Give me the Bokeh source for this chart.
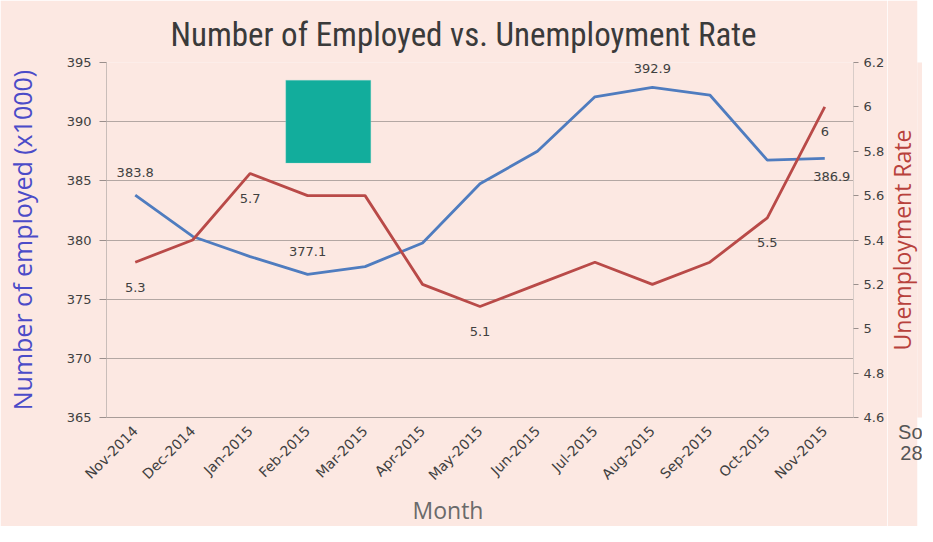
from math import pi
from bokeh.plotting import figure
from bokeh.layouts import row
from bokeh.models import (FactorRange, Range1d, LinearAxis, FixedTicker, NumeralTickFormatter,
                          BoxAnnotation, Title, ColumnDataSource)
from bokeh.core.properties import value
from bokeh.embed import file_html
from bokeh.resources import INLINE

# ---- data ----
months = ["Nov-2014", "Dec-2014", "Jan-2015", "Feb-2015", "Mar-2015", "Apr-2015", "May-2015",
          "Jun-2015", "Jul-2015", "Aug-2015", "Sep-2015", "Oct-2015", "Nov-2015"]
employed = [383.8, 380.3, 378.6, 377.1, 377.75, 379.75, 384.75, 387.5, 392.1, 392.9, 392.25, 386.75, 386.9]
rate = [5.3, 5.4, 5.7, 5.6, 5.6, 5.2, 5.1, 5.2, 5.3, 5.2, 5.3, 5.5, 6.0]
left_ticks = [365, 370, 375, 380, 385, 390, 395]
right_ticks = [4.6, 4.8, 5.0, 5.2, 5.4, 5.6, 5.8, 6.0, 6.2]
emp_label_months = ["Nov-2014", "Feb-2015"]
emp_label_months_top = ["Aug-2015"]
emp_label_months_below = ["Nov-2015"]
rate_label_months = ["Nov-2014", "Jan-2015", "May-2015", "Oct-2015", "Nov-2015"]

BG = "#fce8e2"
GRID = "#b3a7a3"
TXT = "#404040"
BLUE = "#4f7cbf"
RED = "#b94a48"
TICKFONT = "DejaVu Sans"
TITLEFONT = "'Roboto Condensed', 'DejaVu Sans Condensed', 'Liberation Sans Narrow', 'Arial Narrow', Roboto"

p = figure(x_range=FactorRange(factors=months), y_range=Range1d(365, 395),
           width=887, height=526, output_backend="svg", toolbar_location=None,
           background_fill_color=BG, border_fill_color=BG, outline_line_color=None,
           min_border_left=106, min_border_right=34, min_border_top=57, min_border_bottom=109)
p.extra_y_ranges = {"rate": Range1d(4.6, 6.2)}

# title
p.title.text = "Number of Employed vs. Unemployment Rate"
p.title.text_font = TITLEFONT
p.title.text_font_size = "33px"
p.title.text_font_style = "normal"
p.title.text_color = "#3a3a3a"
p.title.align = "left"
p.title.offset = 64
p.title.standoff = 17

# grid
p.xgrid.grid_line_color = None
p.ygrid.ticker = FixedTicker(ticks=left_ticks)
p.ygrid.grid_line_color = GRID
p.ygrid.grid_line_width = 1

# left axis
ya = p.yaxis[0]
ya.ticker = FixedTicker(ticks=left_ticks)
ya.axis_line_color = "#c9bdb9"
ya.major_tick_line_color = "#9a8f8c"
ya.major_tick_out = 7
ya.major_tick_in = 0
ya.minor_tick_line_color = None
ya.major_label_standoff = 8
ya.major_label_text_font = TICKFONT
ya.major_label_text_font_size = "13px"
ya.major_label_text_color = TXT
ya.axis_label = "Number of employed (x1000)"
ya.axis_label_text_font = "Open Sans"
ya.axis_label_text_font_size = "25px"
ya.axis_label_text_font_style = "normal"
ya.axis_label_text_color = "#4b4bc8"
ya.axis_label_standoff = 25

# right axis (ticks on the main figure)
ra = LinearAxis(y_range_name="rate", ticker=FixedTicker(ticks=right_ticks),
                formatter=NumeralTickFormatter(format="0.[0]"))
ra.axis_line_color = "#d8ccc8"
ra.major_tick_line_color = "#9a8f8c"
ra.major_tick_out = 5
ra.major_tick_in = 0
ra.minor_tick_line_color = None
ra.major_label_standoff = 5
ra.major_label_text_font = TICKFONT
ra.major_label_text_font_size = "13px"
ra.major_label_text_color = TXT
p.add_layout(ra, "right")

# x axis
xa = p.xaxis[0]
xa.axis_line_color = "#a89c98"
xa.major_tick_line_color = None
xa.major_label_orientation = pi / 4
xa.major_label_standoff = 5
xa.major_label_text_font = TICKFONT
xa.major_label_text_font_size = "14px"
xa.major_label_text_color = TXT

# x axis title, slightly left of centre as in the reference
p.add_layout(Title(text="Month", align="left", offset=306, standoff=0,
                   text_font="Open Sans", text_font_size="23px", text_font_style="normal",
                   text_color="#6a6a6a"), "below")

# teal block
p.add_layout(BoxAnnotation(left=3.12, right=4.6, top=393.5, bottom=386.5,
                           fill_color="#12ad9c", fill_alpha=1.0,
                           line_color="#8fd9cf", line_width=1))

# lines
src = ColumnDataSource(dict(month=months, employed=employed, rate=rate))
p.line("month", "employed", source=src, line_color=BLUE, line_width=2.8)
p.line("month", "rate", source=src, y_range_name="rate", line_color=RED, line_width=2.8)

# data labels
def emp_val(m):
    return employed[months.index(m)]

def rate_val(m):
    return rate[months.index(m)]

def fmt(v):
    return ("%g" % v)

lab_font = value(TICKFONT)
p.text(x=emp_label_months, y=[emp_val(m) for m in emp_label_months],
       text=[fmt(emp_val(m)) for m in emp_label_months],
       text_font=lab_font, text_font_size="13px", text_color=TXT,
       text_align="center", text_baseline="middle", y_offset=-23)
p.text(x=emp_label_months_top, y=[emp_val(m) for m in emp_label_months_top],
       text=[fmt(emp_val(m)) for m in emp_label_months_top],
       text_font=lab_font, text_font_size="13px", text_color=TXT,
       text_align="center", text_baseline="middle", y_offset=-19)
p.text(x=emp_label_months_below, y=[emp_val(m) for m in emp_label_months_below],
       text=[fmt(emp_val(m)) for m in emp_label_months_below],
       text_font=lab_font, text_font_size="13px", text_color=TXT,
       text_align="center", text_baseline="middle", y_offset=18, x_offset=7)
p.text(x=rate_label_months, y=[rate_val(m) for m in rate_label_months],
       text=[fmt(rate_val(m)) for m in rate_label_months],
       text_font=lab_font, text_font_size="13px", text_color=TXT,
       text_align="center", text_baseline="middle", y_offset=25, y_range_name="rate")

# narrow side strip carrying the right-hand axis title (reads bottom-to-top)
# and the cut-off source note at the bottom right
side = figure(width=30, height=526, output_backend="svg", toolbar_location=None,
              x_range=Range1d(0, 1), y_range=Range1d(4.6, 6.2),
              background_fill_color=BG, border_fill_color=BG, outline_line_color=None,
              min_border_left=0, min_border_right=0, min_border_top=62, min_border_bottom=76)
side.xaxis.visible = False
side.xgrid.grid_line_color = None
side.ygrid.grid_line_color = None
sa = side.yaxis[0]
sa.ticker = FixedTicker(ticks=[])
sa.axis_line_color = None
sa.major_tick_line_color = None
sa.minor_tick_line_color = None
sa.major_label_text_font_size = "0px"
sa.axis_label = "Unemployment Rate"
sa.axis_label_text_font = "Open Sans"
sa.axis_label_text_font_size = "23px"
sa.axis_label_text_font_style = "normal"
sa.axis_label_text_color = "#b8413c"
sa.axis_label_standoff = 0
side.add_layout(Title(text="So", align="right", standoff=2, text_font="Liberation Sans",
                      text_font_size="20px", text_font_style="normal", text_color="#555555"), "below")
side.add_layout(Title(text="28", align="right", standoff=0, text_font="Liberation Sans",
                      text_font_size="20px", text_font_style="normal", text_color="#555555"), "below")

layout = row(p, side, spacing=0)
open("out.html", "w").write(file_html(layout, INLINE))
